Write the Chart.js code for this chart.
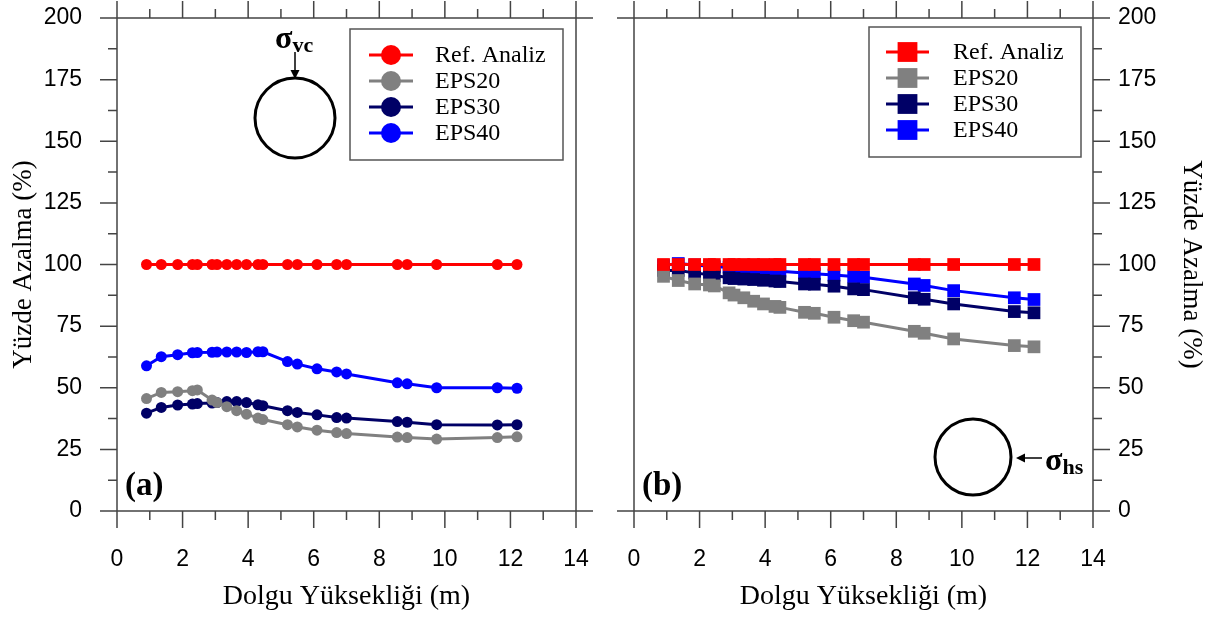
<!DOCTYPE html>
<html>
<head>
<meta charset="utf-8">
<script src="https://cdn.jsdelivr.net/npm/chart.js@4.4.1/dist/chart.umd.min.js"></script>
<style>
html, body { margin: 0; padding: 0; background: #fff; overflow: hidden; }
#left { position: absolute; left: 0; top: 0; width: 610px; height: 619px; }
#right { position: absolute; left: 610px; top: 0; width: 607px; height: 619px; }
</style>
</head>
<body>
<div id="left"><canvas id="c1"></canvas></div>
<div id="right"><canvas id="c2"></canvas></div>
<script>
// dolgu yuksekligi (m)
const dolgu = [0.9, 1.35, 1.85, 2.3, 2.45, 2.9, 3.05, 3.35, 3.65, 3.95, 4.3, 4.45, 5.2, 5.5, 6.1, 6.7, 7.0, 8.55, 8.85, 9.75, 11.6, 12.2];
const seriler = ['Ref. Analiz', 'EPS20', 'EPS30', 'EPS40'];
const renkler = ['#ff0000', '#808080', '#000066', '#0000ff'];

// (a) dusey gerilme
const refA   = [100, 100, 100, 100, 100, 100, 100, 100, 100, 100, 100, 100, 100, 100, 100, 100, 100, 100, 100, 100, 100, 100];
const eps20A = [45.6, 48.1, 48.4, 48.8, 49.1, 45.0, 44.0, 42.3, 40.7, 39.3, 37.7, 37.1, 35.0, 34.1, 32.8, 31.8, 31.4, 30.0, 29.8, 29.2, 29.8, 30.1];
const eps30A = [39.7, 42.0, 43.0, 43.4, 43.6, 43.8, 44.0, 44.4, 44.4, 44.0, 43.1, 42.7, 40.7, 40.0, 39.0, 37.9, 37.7, 36.3, 36.0, 35.0, 34.9, 35.0];
const eps40A = [58.9, 62.6, 63.4, 64.2, 64.3, 64.4, 64.5, 64.5, 64.5, 64.3, 64.6, 64.6, 60.6, 59.6, 57.7, 56.4, 55.6, 52.0, 51.6, 50.0, 50.0, 49.8];

// (b) yatay gerilme
const refB   = [100, 100, 100, 100, 100, 100, 100, 100, 100, 100, 100, 100, 100, 100, 100, 100, 100, 100, 100, 100, 100, 100];
const eps20B = [95.2, 93.5, 92.1, 91.7, 91.3, 88.5, 87.6, 86.5, 85.1, 84.0, 83.0, 82.6, 80.6, 80.2, 78.6, 77.2, 76.6, 72.9, 72.1, 69.8, 67.1, 66.6];
const eps30B = [97.6, 97.6, 96.6, 95.8, 95.5, 94.6, 94.3, 94.1, 93.9, 93.6, 93.3, 93.1, 92.1, 92.0, 91.2, 90.1, 89.8, 86.5, 85.9, 84.0, 80.9, 80.4];
const eps40B = [99.6, 100.4, 99.8, 99.3, 99.1, 98.9, 98.6, 98.3, 98.1, 97.8, 97.5, 97.3, 96.6, 96.2, 95.7, 95.1, 94.8, 92.1, 91.5, 89.4, 86.5, 85.8];

const xEksen = 'Dolgu Yüksekliği (m)';
const yEksen = 'Yüzde Azalma (%)';

const sans = 'Liberation Sans, Arial, sans-serif';
const serif = 'Liberation Serif, Times New Roman, serif';

function setler(values, style, r) {
  return values.map((v, i) => ({
    label: seriler[i],
    data: dolgu.map((x, j) => ({ x: x, y: v[j] })),
    borderColor: renkler[i],
    backgroundColor: renkler[i],
    pointBackgroundColor: renkler[i],
    pointBorderWidth: 0,
    pointStyle: style,
    pointRadius: r,
    borderWidth: 3,
    tension: 0
  }));
}

// axis frame with major/minor ticks
const cerceve = {
  id: 'cerceve',
  afterDraw(chart, args, o) {
    const { ctx, chartArea: a, scales: { x, y } } = chart;
    const big = 17, small = 9;
    ctx.save();
    ctx.strokeStyle = '#444';
    ctx.lineWidth = 1.5;
    ctx.beginPath();
    ctx.moveTo(a.left - big, a.top); ctx.lineTo(a.right + big, a.top);
    ctx.moveTo(a.left - big, a.bottom); ctx.lineTo(a.right + big, a.bottom);
    ctx.moveTo(a.left, a.top - big); ctx.lineTo(a.left, a.bottom + big);
    ctx.moveTo(a.right, a.top - big); ctx.lineTo(a.right, a.bottom + big);
    for (let v = 0; v <= 14; v++) {
      const px = x.getPixelForValue(v);
      const len = v % 2 ? small : big;
      ctx.moveTo(px, a.bottom); ctx.lineTo(px, a.bottom + len);
      ctx.moveTo(px, a.top); ctx.lineTo(px, a.top - len);
    }
    for (let v = 0; v <= 200; v += 12.5) {
      const py = y.getPixelForValue(v);
      const len = v % 25 ? small : big;
      if (o.side === 'left') { ctx.moveTo(a.left, py); ctx.lineTo(a.left - len, py); }
      else { ctx.moveTo(a.right, py); ctx.lineTo(a.right + len, py); }
    }
    ctx.stroke();
    ctx.restore();
  }
};

// boxed legend inside plot
const lejant = {
  id: 'lejant',
  afterDraw(chart, args, o) {
    const { ctx, chartArea: a } = chart;
    const bx = a.left + o.dx, by = a.top + o.dy;
    ctx.save();
    ctx.strokeStyle = '#555';
    ctx.lineWidth = 1.5;
    ctx.strokeRect(bx, by, o.w, o.h);
    chart.data.datasets.forEach((ds, i) => {
      const ry = by + o.first + i * o.step;
      ctx.strokeStyle = ds.borderColor;
      ctx.lineWidth = 3;
      ctx.beginPath();
      ctx.moveTo(bx + o.l1, ry); ctx.lineTo(bx + o.l2, ry);
      ctx.stroke();
      ctx.fillStyle = ds.borderColor;
      ctx.strokeStyle = ds.borderColor;
      Chart.helpers.drawPoint(ctx, { pointStyle: ds.pointStyle, radius: o.r, rotation: 0, borderWidth: 0 }, (bx + o.l1 + bx + o.l2) / 2, ry);
      ctx.fillStyle = '#000';
      ctx.font = '24px ' + serif;
      ctx.textBaseline = 'middle';
      ctx.textAlign = 'left';
      ctx.fillText(ds.label, bx + o.tx, ry + 1);
    });
    ctx.restore();
  }
};

function ok(ctx, x1, y1, x2, y2) {
  const ang = Math.atan2(y2 - y1, x2 - x1);
  ctx.beginPath();
  ctx.moveTo(x1, y1); ctx.lineTo(x2 - 6 * Math.cos(ang), y2 - 6 * Math.sin(ang));
  ctx.stroke();
  ctx.beginPath();
  ctx.moveTo(x2, y2);
  ctx.lineTo(x2 - 9 * Math.cos(ang) + 4.5 * Math.sin(ang), y2 - 9 * Math.sin(ang) - 4.5 * Math.cos(ang));
  ctx.lineTo(x2 - 9 * Math.cos(ang) - 4.5 * Math.sin(ang), y2 - 9 * Math.sin(ang) + 4.5 * Math.cos(ang));
  ctx.closePath();
  ctx.fill();
}

// sketch: pipe, stress arrow, panel label
const sekil = {
  id: 'sekil',
  afterDraw(chart, args, o) {
    const { ctx, chartArea: a } = chart;
    ctx.save();
    ctx.strokeStyle = '#000';
    ctx.fillStyle = '#000';
    ctx.lineWidth = 3;
    const cx = a.left + o.cx, cy = a.top + o.cy;
    ctx.beginPath();
    ctx.arc(cx, cy, o.r, 0, Math.PI * 2);
    ctx.stroke();
    ctx.lineWidth = 1.5;
    ok(ctx, a.left + o.ok[0], a.top + o.ok[1], a.left + o.ok[2], a.top + o.ok[3]);
    ctx.textBaseline = 'alphabetic';
    ctx.textAlign = 'left';
    ctx.font = 'bold 32px ' + serif;
    const sx = a.left + o.sx, sy = a.top + o.sy;
    ctx.fillText('σ', sx, sy);
    const w = ctx.measureText('σ').width;
    ctx.font = 'bold 22px ' + serif;
    ctx.fillText(o.alt, sx + w, sy + 4);
    ctx.font = 'bold 33px ' + serif;
    ctx.fillText(o.etiket, a.left + 8, a.bottom - 16);
    ctx.restore();
  }
};

function sifirla(s) {
  s.paddingTop = 0; s.paddingBottom = 0; s.paddingLeft = 0; s.paddingRight = 0;
}

function ayar(side, lej, sk) {
  return {
    responsive: true,
    maintainAspectRatio: false,
    animation: false,
    layout: { padding: side === 'left' ? { top: 18, right: 34, left: 0, bottom: 0 } : { top: 18, left: 24, right: 0, bottom: 0 } },
    plugins: {
      legend: { display: false },
      tooltip: { enabled: false },
      cerceve: { side: side },
      lejant: lej,
      sekil: sk
    },
    scales: {
      x: {
        type: 'linear', min: 0, max: 14,
        grid: { display: false, drawTicks: false },
        border: { display: false },
        ticks: { stepSize: 2, maxRotation: 0, padding: 35, color: '#000', font: { family: sans, size: 23 } },
        title: { display: true, text: xEksen, color: '#000', font: { family: serif, size: 28 }, padding: { top: 0, bottom: 6 } },
        afterFit(s) { s.height = 108; sifirla(s); }
      },
      y: {
        position: side, min: 0, max: 200,
        grid: { display: false, drawTicks: false },
        border: { display: false },
        ticks: { stepSize: 25, padding: side === 'left' ? 35 : 25, color: '#000', font: { family: sans, size: 23 } },
        title: { display: true, text: yEksen, color: '#000', font: { family: serif, size: 27 }, padding: { top: side === 'left' ? 8 : 10, bottom: 0 } },
        afterFit(s) { s.width = side === 'left' ? 117 : 124; sifirla(s); }
      }
    }
  };
}

new Chart(document.getElementById('c1'), {
  type: 'line',
  data: { datasets: setler([refA, eps20A, eps30A, eps40A], 'circle', 5.5) },
  options: ayar('left',
    { dx: 233, dy: 11, w: 213, h: 131, first: 26, step: 26, l1: 19, l2: 63, tx: 85, r: 10 },
    { cx: 178, cy: 100, r: 40, ok: [178, 34, 178, 61], sx: 158, sy: 30, alt: 'vc', etiket: '(a)' }),
  plugins: [cerceve, lejant, sekil]
});

new Chart(document.getElementById('c2'), {
  type: 'line',
  data: { datasets: setler([refB, eps20B, eps30B, eps40B], 'rect', 9) },
  options: ayar('right',
    { dx: 235, dy: 9, w: 212, h: 130, first: 25, step: 26, l1: 17, l2: 60, tx: 84, r: 14 },
    { cx: 339, cy: 439, r: 38, ok: [408, 440, 382, 440], sx: 411, sy: 452, alt: 'hs', etiket: '(b)' }),
  plugins: [cerceve, lejant, sekil]
});
</script>
</body>
</html>
